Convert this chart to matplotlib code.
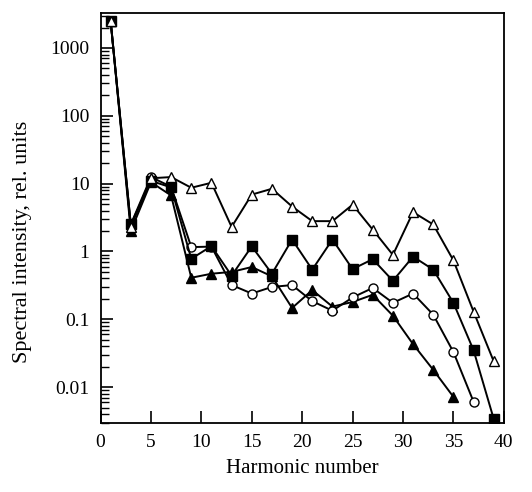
import matplotlib
matplotlib.use("Agg")
import matplotlib.pyplot as plt
import matplotlib.ticker as ticker

plt.rcParams['font.family'] = ['Liberation Serif', 'DejaVu Serif']

# harmonic numbers (odd)
harm = [1, 3, 5, 7, 9, 11, 13, 15, 17, 19, 21, 23, 25, 27, 29, 31, 33, 35, 37, 39]

# open triangles
tri_open = [2500, 2.3, 12, 12.5, 8.7, 10.3, 2.3, 6.9, 8.4, 4.6, 2.8, 2.8, 4.9, 2.1,
            0.89, 3.8, 2.5, 0.74, 0.13, 0.024]
# filled squares
sq_fill = [2500, 2.5, 11, 8.8, 0.78, 1.2, 0.44, 1.19, 0.47, 1.5, 0.54, 1.5, 0.55, 0.77,
           0.37, 0.84, 0.54, 0.175, 0.035, 0.0034]
# open circles (stop at 37)
circ_open = [2500, 2.5, 12.5, 9.0, 1.16, 1.18, 0.32, 0.24, 0.30, 0.32, 0.185, 0.134,
             0.21, 0.29, 0.175, 0.24, 0.117, 0.033, 0.0061]
# filled triangles (stop at 35)
tri_fill = [2500, 2.0, 10.5, 6.7, 0.41, 0.47, 0.50, 0.59, 0.43, 0.147, 0.27, 0.154,
            0.18, 0.23, 0.113, 0.043, 0.018, 0.0072]

fig = plt.figure(figsize=(5.32, 4.92), dpi=100)
ax = fig.add_axes([0.189, 0.141, 0.758, 0.833])

lw = 1.4
ms = 7
ax.plot(harm[:len(tri_fill)], tri_fill, '-^', color='black', mfc='black', lw=lw, ms=ms)
ax.plot(harm[:len(circ_open)], circ_open, '-o', color='black', mfc='white', lw=lw, ms=ms - 0.5)
ax.plot(harm, sq_fill, '-s', color='black', mfc='black', lw=lw, ms=ms - 0.5)
ax.plot(harm, tri_open, '-^', color='black', mfc='white', lw=lw, ms=ms)

ax.set_yscale('log')
ax.set_xlim(0, 40)
ax.set_ylim(0.003, 3300)
ax.set_xticks(range(0, 41, 5))
ax.yaxis.set_major_locator(ticker.FixedLocator([0.01, 0.1, 1, 10, 100, 1000]))
ax.yaxis.set_major_formatter(ticker.FixedFormatter(['0.01', '0.1', '1', '10', '100', '1000']))
ax.yaxis.set_minor_locator(ticker.LogLocator(base=10, subs=range(2, 10), numticks=20))
ax.yaxis.set_minor_formatter(ticker.NullFormatter())

ax.tick_params(which='major', direction='in', length=8.5, width=1.2, labelsize=14,
               top=False, right=False, pad=8)
ax.tick_params(which='minor', direction='in', length=5.5, width=1.0, top=False, right=False)
for s in ax.spines.values():
    s.set_linewidth(1.3)

ax.set_xlabel('Harmonic number', fontsize=15, labelpad=6)
ax.set_ylabel('Spectral intensity, rel. units', fontsize=16)
ax.yaxis.set_label_coords(-0.17, 0.44)

fig.savefig('out.png', dpi=100)
